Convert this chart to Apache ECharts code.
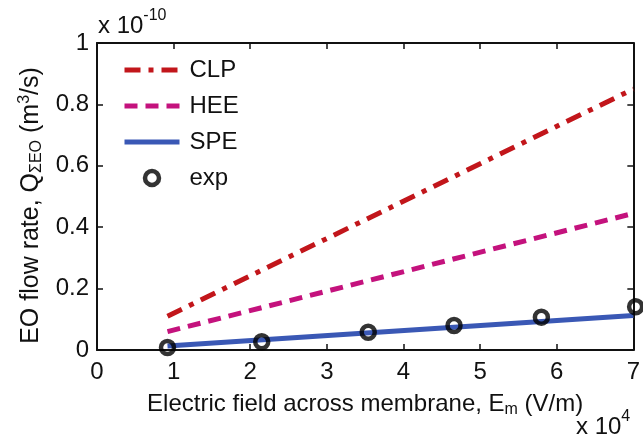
<!DOCTYPE html>
<html>
<head>
<meta charset="utf-8">
<script src="https://cdn.jsdelivr.net/npm/echarts@6/dist/echarts.min.js"></script>
<style>html,body{margin:0;padding:0;background:#fff}#c{width:643px;height:441px}</style>
</head>
<body>
<div id="c"></div>
<script>
// x in units of 1e4 V/m, y in units of 1e-10 m^3/s
const xTicks = [0, 1, 2, 3, 4, 5, 6, 7];
const yTicks = [0, 0.2, 0.4, 0.6, 0.8, 1];
const clpX = [0.92, 7.0];
const clpY = [0.11, 0.85];
const heeX = [0.92, 7.0];
const heeY = [0.06, 0.445];
const speX = [0.92, 7.0];
const speY = [0.013, 0.112];
const expX = [0.92, 2.15, 3.54, 4.66, 5.80, 7.03];
const expY = [0.008, 0.027, 0.058, 0.080, 0.107, 0.141];

const zip = (a, b) => a.map((v, i) => [v, b[i]]);
const FONT = 'Liberation Sans, Arial, sans-serif';
const FS = 24;
const SS = 16;
const INK = '#111';

const chart = echarts.init(document.getElementById('c'), null, {renderer: 'canvas'});
const baseAxis = {
  axisLine: {show: true, onZero: false, lineStyle: {color: INK, width: 2}},
  axisTick: {show: true, inside: true, length: 6, lineStyle: {color: INK, width: 1.5}},
  splitLine: {show: false}
};
const expoRich = {
  a: {fontFamily: FONT, fontSize: FS, fontWeight: 'normal', color: INK, verticalAlign: 'bottom', lineHeight: 30},
  s: {fontFamily: FONT, fontSize: SS, fontWeight: 'normal', color: INK, verticalAlign: 'top', lineHeight: 30, padding: [0,0,14,0]}
};
chart.setOption({
  animation: false,
  backgroundColor: '#fff',
  grid: {left: 97, right: 8, top: 43, bottom: 91, containLabel: false},
  title: [{
    text: '{a|x 10}{s|-10}',
    left: 93, top: 3,
    textStyle: {fontWeight: 'normal', rich: expoRich}
  }, {
    text: '{a|x 10}{s|4}',
    left: 571, top: 404,
    textStyle: {fontWeight: 'normal', rich: expoRich}
  }],
  legend: {
    orient: 'vertical',
    left: 117, top: 53,
    itemWidth: 55, itemHeight: 14, itemGap: 12,
    textStyle: {fontFamily: FONT, fontSize: FS, color: INK, padding: [0,0,0,5], lineHeight: 24},
    data: [
      {name: 'CLP', itemStyle: {opacity: 0}, lineStyle: {width: 5}},
      {name: 'HEE', itemStyle: {opacity: 0}, lineStyle: {width: 5}},
      {name: 'SPE', itemStyle: {opacity: 0}, lineStyle: {width: 5}},
      {name: 'exp', itemStyle: {borderWidth: 4.5, borderColor: '#000', color: 'rgba(0,0,0,0)'}}
    ]
  },
  xAxis: [Object.assign({}, baseAxis, {
    type: 'value', min: 0, max: 7, interval: 1, position: 'bottom',
    axisLabel: {fontFamily: FONT, fontSize: FS, color: INK, margin: 10,
      formatter: v => xTicks.includes(v) ? String(v) : ''},
    name: '{a|Electric field across membrane, E}{b|m}{a| (V/m)}',
    nameLocation: 'middle', nameGap: 40,
    nameTextStyle: {rich: {
      a: {fontFamily: FONT, fontSize: FS, color: INK},
      b: {fontFamily: FONT, fontSize: SS, color: INK, verticalAlign: 'bottom', padding: [12,0,0,0]}
    }}
  }), Object.assign({}, baseAxis, {
    type: 'value', min: 0, max: 7, interval: 1, position: 'top',
    axisLabel: {show: false}
  })],
  yAxis: [Object.assign({}, baseAxis, {
    type: 'value', min: 0, max: 1, interval: 0.2, position: 'left',
    axisLabel: {fontFamily: FONT, fontSize: FS, color: INK, margin: 8,
      formatter: v => { const t = yTicks.find(y => Math.abs(y - v) < 1e-9); return t === undefined ? '' : String(t); }},
    name: '{a|EO flow rate, Q}{b|ΣEO}{a| (m}{c|3}{a|/s)}',
    nameLocation: 'middle', nameGap: 52, nameRotate: 90,
    nameTextStyle: {padding: [0, 18, 0, 0], rich: {
      a: {fontFamily: FONT, fontSize: 25, color: INK},
      b: {fontFamily: FONT, fontSize: SS, color: INK, verticalAlign: 'bottom', padding: [12,0,0,0]},
      c: {fontFamily: FONT, fontSize: SS, color: INK, verticalAlign: 'top', padding: [0,0,12,0]}
    }}
  }), Object.assign({}, baseAxis, {
    type: 'value', min: 0, max: 1, interval: 0.2, position: 'right',
    axisLabel: {show: false}
  })],
  series: [{
    name: 'CLP', type: 'line', data: zip(clpX, clpY), showSymbol: false, symbol: 'none',
    lineStyle: {color: '#c2161b', width: 5, type: [16, 8, 5, 8], cap: 'butt'},
    itemStyle: {color: '#c2161b'}
  }, {
    name: 'HEE', type: 'line', data: zip(heeX, heeY), showSymbol: false, symbol: 'none',
    lineStyle: {color: '#c4127d', width: 5, type: [13, 8], cap: 'butt'},
    itemStyle: {color: '#c4127d'}
  }, {
    name: 'SPE', type: 'line', data: zip(speX, speY), showSymbol: false, symbol: 'none',
    lineStyle: {color: '#3a58b5', width: 5},
    itemStyle: {color: '#3a58b5'}
  }, {
    name: 'exp', type: 'scatter', data: zip(expX, expY), symbol: 'circle', symbolSize: 13,
    clip: false, z: 5,
    itemStyle: {color: 'rgba(0,0,0,0)', borderColor: '#000', borderWidth: 4.5}
  }]
});
</script>
</body>
</html>
